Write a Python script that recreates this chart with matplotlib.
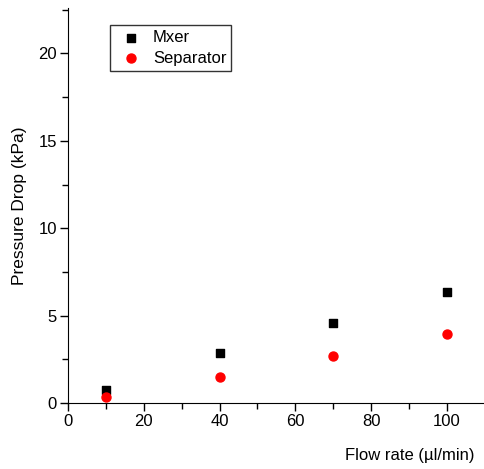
import matplotlib
matplotlib.use("Agg")
import matplotlib.pyplot as plt
from matplotlib.ticker import MultipleLocator

plt.rcParams['font.family'] = ['Liberation Sans', 'DejaVu Sans']

flow = [10, 40, 70, 100]
mixer = [0.74, 2.86, 4.56, 6.35]
separator = [0.36, 1.5, 2.7, 3.93]

fig = plt.figure(figsize=(4.85, 4.69), dpi=100)
ax = fig.add_axes([0.140, 0.1407, 0.860, 0.8423])

ax.scatter(flow, mixer, marker='s', s=32, color='black', label='Mxer', zorder=3)
ax.scatter(flow, separator, marker='o', s=42, color='red', label='Separator', zorder=3)

ax.set_xlim(0, 110)
ax.set_ylim(0, 22.6)
ax.xaxis.set_major_locator(MultipleLocator(20))
ax.xaxis.set_minor_locator(MultipleLocator(10))
ax.yaxis.set_major_locator(MultipleLocator(5))
ax.yaxis.set_minor_locator(MultipleLocator(2.5))
ax.tick_params(which='major', direction='out', length=6, width=1, labelsize=12, pad=2)
ax.tick_params(which='minor', direction='out', length=4, width=1)

for side in ['top', 'right']:
    ax.spines[side].set_visible(False)

ax.set_ylabel('Pressure Drop (kPa)', fontsize=12.5, labelpad=8)
ax.set_xlabel('Flow rate (µl/min)', fontsize=12, loc='right', labelpad=14)
ax.xaxis.set_label_coords(0.975, -0.115)

leg = ax.legend(loc='upper left', bbox_to_anchor=(0.1, 0.957), frameon=True,
                fancybox=False, edgecolor='black', fontsize=12,
                handletextpad=0.3, borderpad=0.3, labelspacing=0.35,
                handlelength=2.0, borderaxespad=0)
leg.get_frame().set_linewidth(1)

fig.savefig('out.png', dpi=100)
